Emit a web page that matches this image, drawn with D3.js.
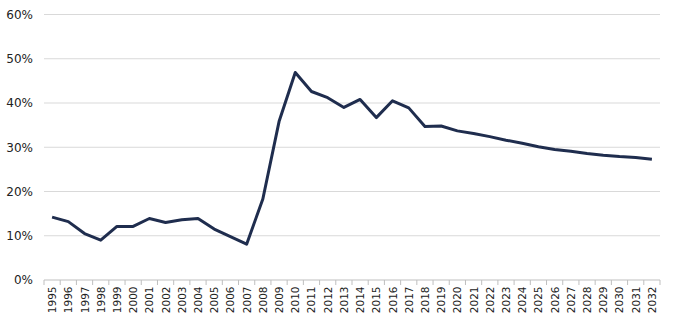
<!DOCTYPE html>
<html>
<head>
<meta charset="utf-8">
<script src="https://cdn.jsdelivr.net/npm/d3@7"></script>
<style>
  body { margin: 0; background: #fff; }
  text { font-family: "DejaVu Sans", Verdana, sans-serif; fill: #222; }
</style>
</head>
<body>
<svg id="chart"></svg>
<script>
var screen = {width: 675, height: 323}
var margins = {top: 14.5, right: 15, bottom: 43, left: 44}

// years on the x axis
var years = d3.range(1995, 2033).map(String)
// share in percent
var shares = [14.2, 13.2, 10.5, 9.0, 12.1, 12.1, 13.9, 13.0, 13.6, 13.9,
              11.5, 9.8, 8.1, 18.3, 35.8, 46.9, 42.6, 41.2, 39.0, 40.8,
              36.7, 40.5, 38.9, 34.7, 34.8, 33.7, 33.1, 32.4, 31.6, 30.9,
              30.1, 29.5, 29.1, 28.6, 28.2, 27.9, 27.7, 27.3]
var yTicks = [0, 10, 20, 30, 40, 50, 60]

var width = screen.width - margins.left - margins.right
var height = screen.height - margins.top - margins.bottom

var svg = d3.select("#chart")
    .attr("width", screen.width)
    .attr("height", screen.height)

var g = svg.append("g")
    .attr("transform", "translate(" + margins.left + "," + margins.top + ")")

var xScale = d3.scaleBand()
    .domain(years)
    .range([0, width])

var yScale = d3.scaleLinear()
    .domain([0, 60])
    .range([height, 0])

// gridlines
g.selectAll(".grid")
    .data(yTicks.slice(1))
    .enter()
    .append("line")
    .attr("class", "grid")
    .attr("x1", 0)
    .attr("x2", width)
    .attr("y1", function(d) { return yScale(d) })
    .attr("y2", function(d) { return yScale(d) })
    .attr("stroke", "#d9d9d9")
    .attr("stroke-width", 1)

// y labels
var yAxis = d3.axisLeft(yScale)
    .tickValues(yTicks)
    .tickSize(0)
    .tickPadding(11)
    .tickFormat(function(d) { return d + "%" })

g.append("g")
    .call(yAxis)
    .call(function(a) { a.select(".domain").remove() })
    .selectAll("text")
    .style("font-size", "12px")
    .attr("fill", "#222")

// x axis line with ticks between categories
var xg = g.append("g")
    .attr("transform", "translate(0," + height + ")")

xg.append("line")
    .attr("x1", 0)
    .attr("x2", width)
    .attr("stroke", "#bfbfbf")

xg.selectAll(".sep")
    .data(years.concat(["end"]))
    .enter()
    .append("line")
    .attr("class", "sep")
    .attr("x1", function(d, i) { return i * xScale.step() })
    .attr("x2", function(d, i) { return i * xScale.step() })
    .attr("y1", 0)
    .attr("y2", 5)
    .attr("stroke", "#bfbfbf")

xg.selectAll(".xl")
    .data(years)
    .enter()
    .append("text")
    .attr("class", "xl")
    .attr("transform", function(d) {
        return "translate(" + (xScale(d) + xScale.bandwidth() / 2 + 4) + ",6.5) rotate(-90)"
    })
    .attr("text-anchor", "end")
    .style("font-size", "10.5px")
    .text(function(d) { return d })

// the line
var line = d3.line()
    .x(function(d, i) { return xScale(years[i]) + xScale.bandwidth() / 2 })
    .y(function(d) { return yScale(d) })

g.append("path")
    .datum(shares)
    .attr("d", line)
    .attr("fill", "none")
    .attr("stroke", "#1f2d4e")
    .attr("stroke-width", 3)
    .attr("stroke-linejoin", "round")
</script>
</body>
</html>
